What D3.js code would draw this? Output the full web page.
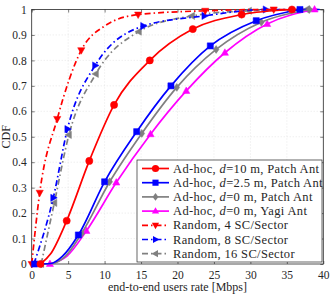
<!DOCTYPE html>
<html>
<head>
<meta charset="utf-8">
<script src="https://d3js.org/d3.v7.min.js"></script>
<style>
  body { margin: 0; background: #fff; }
  svg text { font-family: "Liberation Serif", "DejaVu Serif", serif; fill: #262626; }
</style>
</head>
<body>
<div id="chart"></div>
<script>
// ---- data ----
const xTicks = [0, 5, 10, 15, 20, 25, 30, 35, 40];
const yTicks = [0, 0.1, 0.2, 0.3, 0.4, 0.5, 0.6, 0.7, 0.8, 0.9, 1];

const labels = [
  "Ad-hoc, d=10 m, Patch Ant",
  "Ad-hoc, d=2.5 m, Patch Ant",
  "Ad-hoc, d=0 m, Patch Ant",
  "Ad-hoc, d=0 m, Yagi Ant",
  "Random, 4 SC/Sector",
  "Random, 8 SC/Sector",
  "Random, 16 SC/Sector"
];

// rate [Mbps], CDF, and which points carry a marker
const adhoc10X = [1.2, 2.6, 4.8, 7.9, 11.3, 16.2, 22.1, 28.8, 35.7];
const adhoc10Y = [0, 0.04, 0.17, 0.405, 0.625, 0.80, 0.923, 0.98, 1.0];
const adhoc10M = [0, 2, 3, 4, 5, 6, 7, 8];

const adhoc25X = [0.4, 2.6, 4.2, 6.4, 10.0, 14.4, 19.1, 24.5, 30.8, 36.8];
const adhoc25Y = [0, 0.002, 0.03, 0.114, 0.323, 0.52, 0.70, 0.857, 0.956, 1.0];
const adhoc25M = [0, 3, 4, 5, 6, 7, 8, 9];

const adhoc0X = [1.3, 2.8, 4.6, 6.85, 10.7, 15.1, 19.9, 25.3, 31.5, 38.1];
const adhoc0Y = [0, 0.002, 0.03, 0.12, 0.323, 0.513, 0.694, 0.843, 0.95, 1.0];
const adhoc0M = [0, 3, 4, 5, 6, 7, 8, 9];

const yagiX = [2.5, 4.8, 7.5, 11.6, 16.3, 21.2, 26.5, 32.3, 38.8];
const yagiY = [0, 0.03, 0.13, 0.32, 0.51, 0.68, 0.83, 0.943, 1.0];
const yagiM = [0, 2, 3, 4, 5, 6, 7, 8];

const rnd4X = [0, 1.1, 3.5, 6.8, 10.0, 14.6, 23.8, 33.2, 39.5];
const rnd4Y = [0, 0.28, 0.57, 0.84, 0.935, 0.98, 0.995, 1.0, 1.0];
const rnd4M = [0, 1, 2, 3, 5, 6, 7];

const rnd8X = [0.3, 2.96, 4.9, 8.7, 15.3, 23.7, 32.1, 39.5];
const rnd8Y = [0, 0.26, 0.53, 0.78, 0.935, 0.975, 1.0, 1.0];
const rnd8M = [0, 1, 2, 3, 4, 5, 6];

const rnd16X = [1.3, 3.1, 5.1, 8.8, 14.7, 22.0, 29.8, 37.7, 39.5];
const rnd16Y = [0, 0.24, 0.507, 0.747, 0.913, 0.975, 0.995, 1.0, 1.0];
const rnd16M = [0, 1, 2, 3, 4, 5, 6, 7];

const colors = ["#ff0000", "#0000ff", "#808080", "#ff00ff", "#ff0000", "#0000ff", "#808080"];
const shapes = ["circle", "square", "diamond", "up", "down", "right", "left"];
const dashes = [null, null, null, null, "6,3,1.5,3", "6,3,1.5,3", "6,3,1.5,3"];

const series = [
  [adhoc10X, adhoc10Y, adhoc10M],
  [adhoc25X, adhoc25Y, adhoc25M],
  [adhoc0X, adhoc0Y, adhoc0M],
  [yagiX, yagiY, yagiM],
  [rnd4X, rnd4Y, rnd4M],
  [rnd8X, rnd8Y, rnd8M],
  [rnd16X, rnd16Y, rnd16M]
].map(function (s, i) {
  return {
    name: labels[i],
    pts: s[0].map(function (x, j) { return [x, s[1][j]]; }),
    marks: s[2].map(function (j) { return [s[0][j], s[1][j]]; })
  };
});

// ---- layout ----
const W = 336, H = 294;
const margin = { top: 9.5, right: 12.7, bottom: 30, left: 31.7 };
const width = W - margin.left - margin.right, height = H - margin.top - margin.bottom;

const svg = d3.select("#chart").append("svg")
  .attr("width", W).attr("height", H);
const g = svg.append("g").attr("transform", `translate(${margin.left},${margin.top})`);

const x = d3.scaleLinear().domain([0, 40]).range([0, width]);
const y = d3.scaleLinear().domain([0, 1]).range([height, 0]);

// grid
g.append("g").selectAll("line").data(xTicks.slice(1, -1)).enter().append("line")
  .attr("x1", d => x(d)).attr("x2", d => x(d)).attr("y1", 0).attr("y2", height)
  .attr("stroke", "#d9d9d9").attr("stroke-width", 0.6).attr("stroke-dasharray", "1,2");
g.append("g").selectAll("line").data(yTicks.slice(1, -1)).enter().append("line")
  .attr("y1", d => y(d)).attr("y2", d => y(d)).attr("x1", 0).attr("x2", width)
  .attr("stroke", "#d9d9d9").attr("stroke-width", 0.6).attr("stroke-dasharray", "1,2");

// axes (ticks inward, box)
const axisColor = "#262626";
function styleAxis(sel) {
  sel.select(".domain").remove();
  sel.selectAll(".tick line").attr("stroke", axisColor).attr("stroke-width", 0.6);
  sel.selectAll(".tick text").style("font-size", "11.5px").attr("fill", axisColor);
}
g.append("g").attr("transform", `translate(0,${height})`)
  .call(d3.axisBottom(x).tickValues(xTicks).tickSize(-3).tickPadding(7).tickFormat(d3.format("d")))
  .call(styleAxis);
g.append("g")
  .call(d3.axisTop(x).tickValues(xTicks).tickSize(-3).tickFormat(""))
  .call(styleAxis);
g.append("g")
  .call(d3.axisLeft(y).tickValues(yTicks).tickSize(-3).tickPadding(5).tickFormat(d => d === 0 || d === 1 ? d3.format("d")(d) : d3.format(".1f")(d)))
  .call(styleAxis);
g.append("g").attr("transform", `translate(${width},0)`)
  .call(d3.axisRight(y).tickValues(yTicks).tickSize(-3).tickFormat(""))
  .call(styleAxis);

g.append("rect").attr("width", width).attr("height", height)
  .attr("fill", "none").attr("stroke", axisColor).attr("stroke-width", 0.8);

// marker symbol paths
function markerPath(shape, r) {
  switch (shape) {
    case "circle": return d3.symbol(d3.symbolCircle, Math.PI * r * r)();
    case "square": return `M${-r * 0.85},${-r * 0.85}H${r * 0.85}V${r * 0.85}H${-r * 0.85}Z`;
    case "diamond": return `M0,${-r * 1.1}L${r * 0.8},0L0,${r * 1.1}L${-r * 0.8},0Z`;
    case "up": return `M0,${-r * 1.1}L${r},${r * 0.7}L${-r},${r * 0.7}Z`;
    case "down": return `M0,${r * 1.1}L${r},${-r * 0.7}L${-r},${-r * 0.7}Z`;
    case "right": return `M${r * 1.1},0L${-r * 0.7},${r}L${-r * 0.7},${-r}Z`;
    case "left": return `M${-r * 1.1},0L${r * 0.7},${r}L${r * 0.7},${-r}Z`;
  }
}

const line = d3.line().x(d => x(d[0])).y(d => y(d[1])).curve(d3.curveMonotoneX);

// draw in reverse so the first series lies on top
const plot = g.append("g");
series.slice().reverse().forEach(function (s, k) {
  const i = series.length - 1 - k;
  plot.append("path").datum(s.pts)
    .attr("d", line)
    .attr("fill", "none").attr("stroke", colors[i]).attr("stroke-width", 1.7)
    .attr("stroke-dasharray", dashes[i]);
  plot.append("g").selectAll("path").data(s.marks).enter().append("path")
    .attr("transform", d => `translate(${x(d[0])},${y(d[1])})`)
    .attr("d", markerPath(shapes[i], 3.6))
    .attr("fill", colors[i]).attr("stroke", colors[i]).attr("stroke-width", 0.5);
});

// axis labels
svg.append("text")
  .attr("x", margin.left + width / 2).attr("y", H - 3)
  .attr("text-anchor", "middle").style("font-size", "12px")
  .text("end-to-end users rate [Mbps]");
svg.append("text")
  .attr("transform", `translate(10,${margin.top + height / 2}) rotate(-90)`)
  .attr("text-anchor", "middle").style("font-size", "12px")
  .text("CDF");

// legend
const lg = svg.append("g").attr("transform", "translate(137,160)");
lg.append("rect").attr("width", 185).attr("height", 102)
  .attr("fill", "#fff").attr("stroke", axisColor).attr("stroke-width", 0.7);
series.forEach(function (s, i) {
  const row = lg.append("g").attr("transform", `translate(0,${8.5 + i * 14.2})`);
  row.append("line").attr("x1", 5).attr("x2", 32).attr("y1", 0).attr("y2", 0)
    .attr("stroke", colors[i]).attr("stroke-width", 1.7).attr("stroke-dasharray", dashes[i]);
  row.append("path").attr("transform", "translate(18.5,0)")
    .attr("d", markerPath(shapes[i], 3.6)).attr("fill", colors[i]);
  const t = row.append("text").attr("x", 36).attr("y", 4)
    .style("font-size", "12.5px").style("letter-spacing", "0.35px");
  const m = s.name.match(/^(.*?)d(=.*)$/);
  if (m) {
    t.append("tspan").text(m[1]);
    t.append("tspan").style("font-style", "italic").text("d");
    t.append("tspan").text(m[2]);
  } else {
    t.text(s.name);
  }
});
</script>
</body>
</html>
